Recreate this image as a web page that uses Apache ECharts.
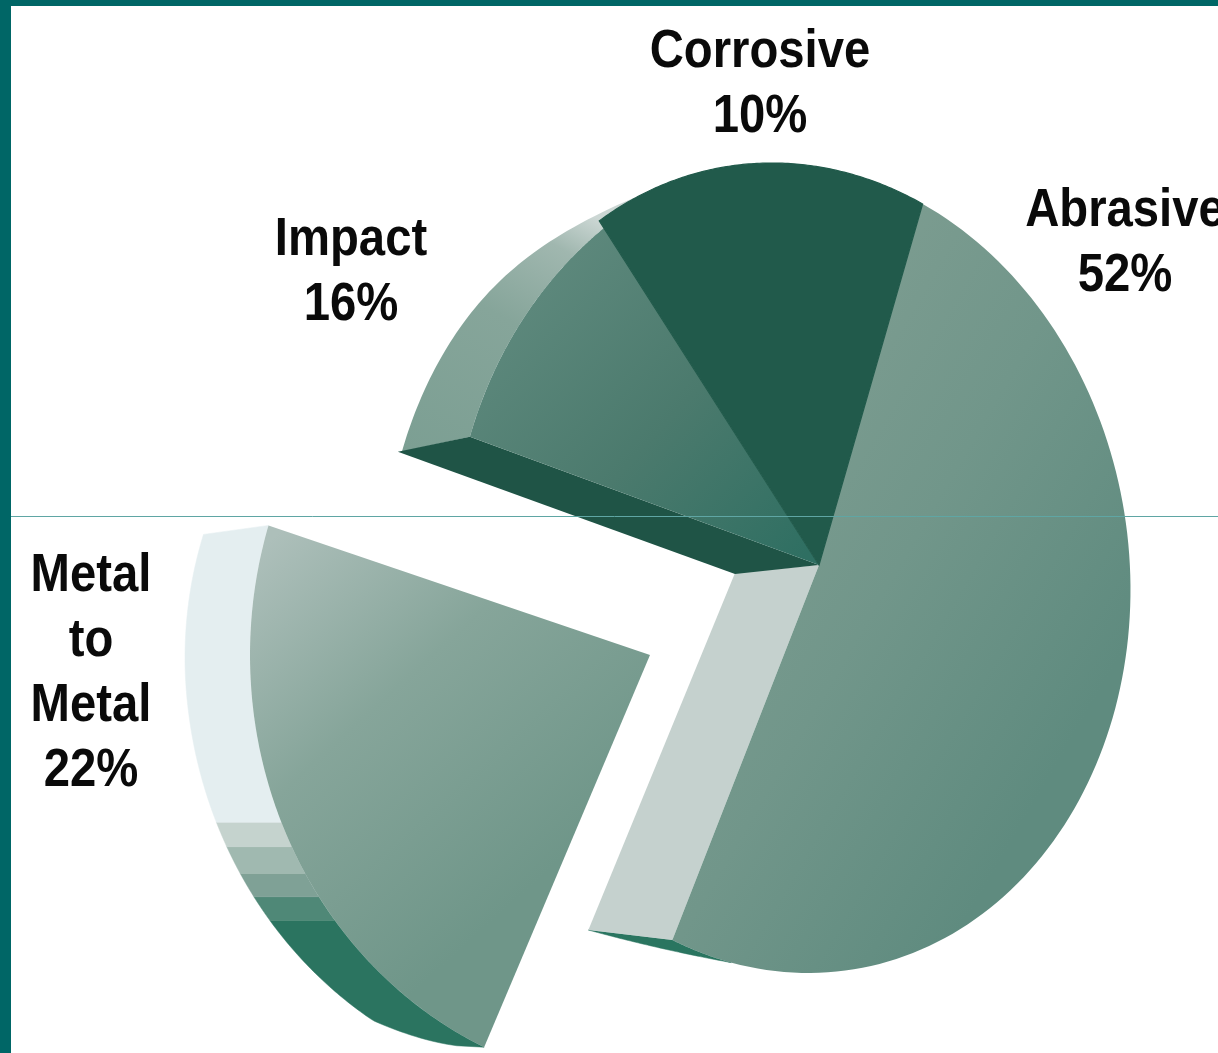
<!DOCTYPE html>
<html>
<head>
<meta charset="utf-8">
<style>html,body{margin:0;padding:0;background:#fff;overflow:hidden}#chart{width:1218px;height:1053px}</style>
<script src="https://cdn.jsdelivr.net/npm/echarts@6/dist/echarts.min.js"></script>
</head>
<body>
<div id="chart"></div>
<script>
// Wear mechanisms, share of total failures (percent)
const categories = ['Abrasive', 'Metal\nto\nMetal', 'Impact', 'Corrosive'];
const shares = [52, 22, 16, 10];

function grad(x, y, x2, y2, stops) {
  return {
    type: 'linearGradient', x, y, x2, y2, global: true,
    colorStops: stops.map(([offset, color]) => ({ offset, color }))
  };
}

// Projected view of each wedge: ellipse, shear, pivot, start angle and perspective stretch.
const views = [
  {
    cx: 790, cy: 568, rx: 340, ry: 405, shear: 0.045, apex: [819, 565], start: 26, stretch: 0.947,
    fill: grad(720, 400, 1130, 640, [[0, '#7f9e92'], [0.5, '#71968a'], [1, '#5f8b7f']]),
    cut: { depth: [-84, -10], apexDepth: [-84, 8], at: 1, fill: '#c5d1ce' },
    rim: { from: 0.942, to: 1, bands: [[0, 1, '#2a7560']],
      offset: u => { const w = (u - 0.942) / 0.058; return [-84 * w, -10 * w]; } },
    label: [1125, 244]
  },
  {
    cx: 650, cy: 655, rx: 400, ry: 431, shear: 0, apex: [650, 655], start: 204.5, stretch: 1.048,
    fill: grad(270, 540, 560, 860, [[0, '#adbfba'], [0.45, '#86a59a'], [1, '#6f9689']]),
    rim: { from: 0, to: 1,
      bands: [[0, 0.331, '#2b7460'], [0.331, 0.378, '#4f8877'], [0.378, 0.422, '#7fa196'],
              [0.422, 0.471, '#a0b9b0'], [0.471, 0.514, '#c5d3ce'], [0.514, 1, '#e4eef0']],
      offset: u => [-65 * Math.pow(Math.min(1, u / 0.09), 0.35), 9 * Math.max(0, (u - 0.7) / 0.3)] },
    label: [91, 674]
  },
  {
    cx: 817, cy: 565, rx: 365, ry: 415, shear: 0, apex: [819, 565], start: -72, stretch: 0.63,
    fill: grad(520, 300, 800, 560, [[0, '#5d887c'], [0.5, '#4b7a6d'], [1, '#2f6f62']]),
    cut: { depth: [-72, 15], apexDepth: [-84, 9], at: 0, fill: '#1f5446' },
    rim: { from: 0, to: 1.22,
      bands: [[0, 1.22, grad(560, 198, 420, 455, [[0, '#ccd7d4'], [0.15, '#a0b7af'], [0.45, '#86a59a'], [1, '#7c9f93']])]],
      offset: u => { const f = Math.pow(u / 1.22, 5); return [-68 + 55 * f, 15 - 15 * f]; } },
    label: [351, 273]
  },
  {
    cx: 790, cy: 568, rx: 340, ry: 405, shear: 0.045, apex: [819, 565], start: -31, stretch: 1.583,
    fill: '#215a4b', edge: '#215a4b',
    label: [760, 85]
  }
];

const toRad = Math.PI / 180;

function arcPoint(view, deg) {
  const dy = -view.ry * Math.cos(deg * toRad);
  return [view.cx + view.rx * Math.sin(deg * toRad) + view.shear * dy, view.cy + dy];
}

function renderWedge(params, api) {
  const view = views[params.dataIndex];
  const value = api.value(1);
  const span = value / 100 * 360 * view.stretch;
  const at = u => arcPoint(view, view.start + span * u);
  const children = [];

  // Outer wall, one polygon per shaded band
  if (view.rim) {
    view.rim.bands.forEach(([a, b, fill]) => {
      const lo = Math.max(a, view.rim.from);
      const hi = Math.min(b, view.rim.to);
      const inner = [];
      const outer = [];
      for (let i = 0; i <= 60; i++) {
        const u = lo + (hi - lo) * i / 60;
        const p = at(u);
        const d = view.rim.offset(u);
        inner.push(p);
        outer.push([p[0] + d[0], p[1] + d[1]]);
      }
      children.push({
        type: 'polygon', silent: true,
        shape: { points: inner.concat(outer.reverse()) },
        style: { fill, stroke: typeof fill === 'string' ? fill : null, lineWidth: 0.5 }
      });
    });
  }

  // Flat cut face left open by the pulled-out neighbour
  if (view.cut) {
    const c = at(view.cut.at);
    children.push({
      type: 'polygon', silent: true,
      shape: { points: [
        view.apex, c,
        [c[0] + view.cut.depth[0], c[1] + view.cut.depth[1]],
        [view.apex[0] + view.cut.apexDepth[0], view.apex[1] + view.cut.apexDepth[1]]
      ] },
      style: { fill: view.cut.fill }
    });
  }

  // Top face of the wedge
  const face = [view.apex];
  for (let i = 0; i <= 120; i++) face.push(at(i / 120));
  children.push({
    type: 'polygon', silent: true, shape: { points: face },
    style: { fill: view.fill, stroke: view.edge || null, lineWidth: view.edge ? 1.2 : 0 }
  });

  // Name and percentage, drawn condensed
  children.push({
    type: 'text', silent: true, z2: 50,
    x: view.label[0], y: view.label[1], scaleX: 0.875, scaleY: 1,
    style: {
      x: 0, y: 0,
      text: api.value(2) + '\n' + value + '%',
      fill: '#0a0a0a', align: 'center', verticalAlign: 'middle',
      font: 'bold 54px "Liberation Sans", sans-serif',
      lineHeight: 65
    }
  });
  return { type: 'group', children };
}

const chart = echarts.init(document.getElementById('chart'), null, { renderer: 'canvas' });
chart.setOption({
  animation: false,
  backgroundColor: '#ffffff',
  series: [{
    type: 'custom',
    coordinateSystem: 'none',
    renderItem: renderWedge,
    encode: { value: 1 },
    data: categories.map((name, i) => [i, shares[i], name])
  }],
  graphic: [
    { type: 'rect', silent: true, z: 100, shape: { x: 0, y: 0, width: 1218, height: 6 }, style: { fill: '#006666' } },
    { type: 'rect', silent: true, z: 100, shape: { x: 0, y: 0, width: 11, height: 1053 }, style: { fill: '#006666' } },
    { type: 'line', silent: true, z: 100, shape: { x1: 11, y1: 516.5, x2: 1218, y2: 516.5 }, style: { stroke: '#5fa6a4', lineWidth: 1 } }
  ]
});
</script>
</body>
</html>
